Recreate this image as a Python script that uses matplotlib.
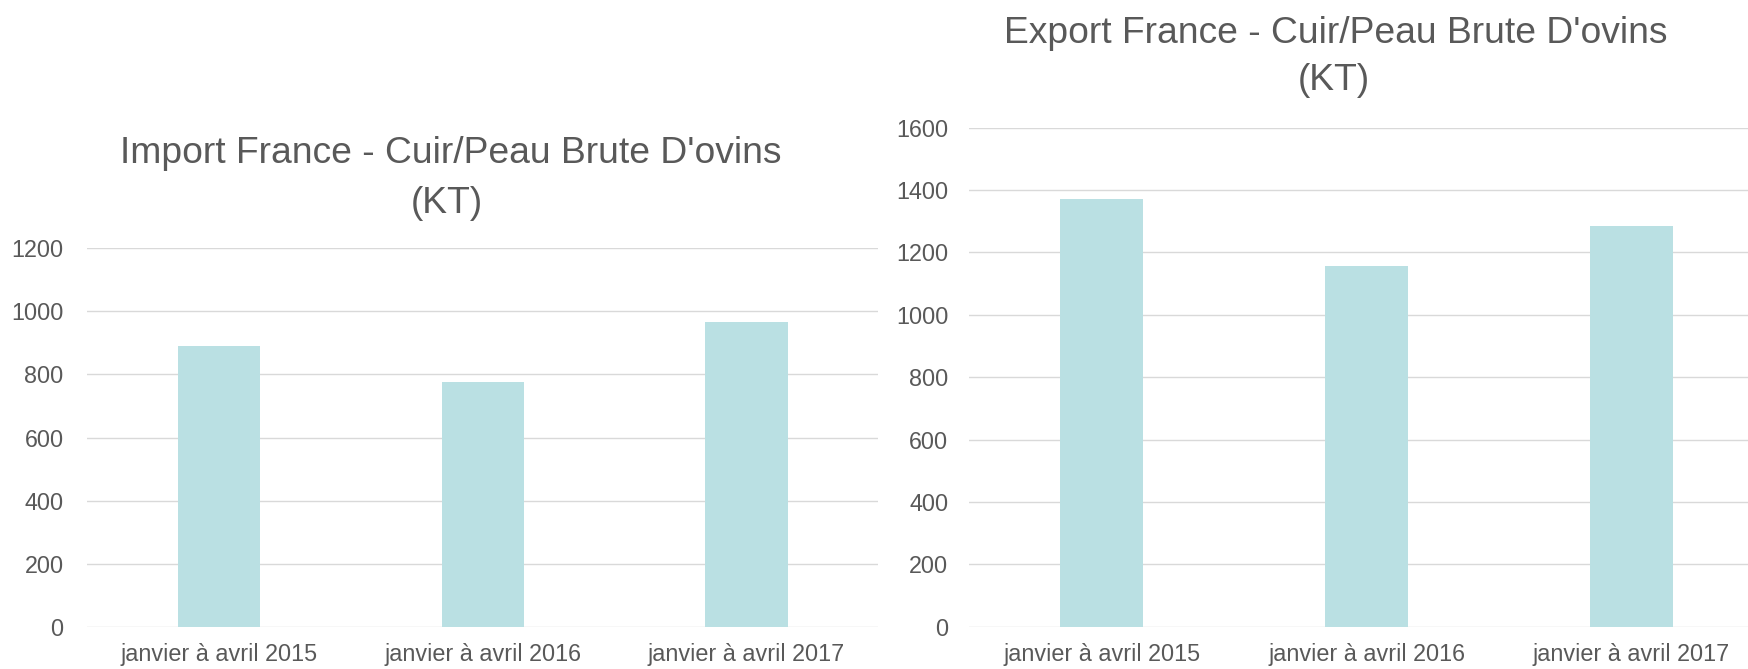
import matplotlib
matplotlib.use("Agg")
import matplotlib.pyplot as plt

categories = ["janvier à avril 2015", "janvier à avril 2016", "janvier à avril 2017"]
import_values = [890, 776, 966]
export_values = [1372, 1156, 1284]
import_ticks = [0, 200, 400, 600, 800, 1000, 1200]
export_ticks = [0, 200, 400, 600, 800, 1000, 1200, 1400, 1600]
import_title = ["Import France - Cuir/Peau Brute D'ovins", "(KT)"]
export_title = ["Export France - Cuir/Peau Brute D'ovins", "(KT)"]

plt.rcParams['font.family'] = ['Liberation Sans', 'DejaVu Sans']
TEXT = '#595959'
GRID = '#D9D9D9'
BAR = '#BAE0E3'
W, H = 1748, 669

fig = plt.figure(figsize=(W / 100, H / 100), dpi=100)
fig.patch.set_facecolor('white')


def make(ax, values, ticks, ypad):
    x = list(range(len(categories)))
    ax.bar(x, values, width=0.313, color=BAR, zorder=2)
    ax.set_xlim(-0.5, len(categories) - 0.5)
    ax.set_ylim(0, ticks[-1])
    ax.set_yticks(ticks)
    ax.set_yticklabels([str(t) for t in ticks])
    ax.set_xticks(x)
    ax.set_xticklabels(categories)
    for s in ax.spines.values():
        s.set_visible(False)
    ax.yaxis.grid(True, color=GRID, linewidth=1.0, zorder=0)
    ax.set_axisbelow(True)
    ax.tick_params(axis='both', length=0, labelsize=16.8, labelcolor=TEXT)
    ax.tick_params(axis='y', pad=ypad)
    ax.tick_params(axis='x', pad=11.5)
    ax.set_facecolor('none')


ax1 = fig.add_axes([87.3 / W, (H - 626.7) / H, 791 / W, 378.4 / H])
make(ax1, import_values, import_ticks, 17)
ax2 = fig.add_axes([969.3 / W, (H - 626.7) / H, 794.4 / W, 499 / H])
make(ax2, export_values, export_ticks, 15)

# titles
fig.text(451 / W, 1 - 163.3 / H, import_title[0], ha='center', va='baseline', fontsize=26.8, color=TEXT)
fig.text(447 / W, 1 - 212.7 / H, import_title[1], ha='center', va='baseline', fontsize=26.8, color=TEXT)
fig.text(1336 / W, 1 - 42.7 / H, export_title[0], ha='center', va='baseline', fontsize=26.8, color=TEXT)
fig.text(1334 / W, 1 - 90 / H, export_title[1], ha='center', va='baseline', fontsize=26.8, color=TEXT)

fig.savefig('out.png', dpi=100, facecolor='white')
